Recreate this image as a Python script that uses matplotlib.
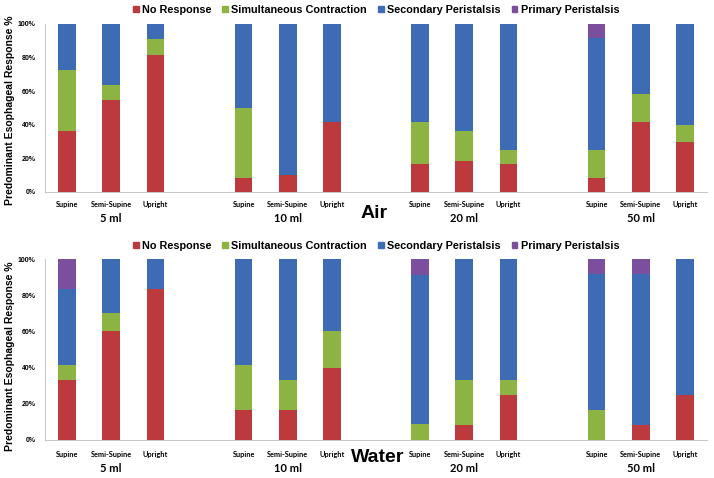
import matplotlib
matplotlib.use("Agg")
import matplotlib.pyplot as plt
import matplotlib.transforms as mtransforms
from matplotlib.patches import Patch
import numpy as np

groups = ["5 ml", "10 ml", "20 ml", "50 ml"]
positions = ["Supine", "Semi-Supine", "Upright"]
series = ["No Response", "Simultaneous Contraction", "Secondary Peristalsis", "Primary Peristalsis"]

# Air (percent), order per group: Supine, Semi-Supine, Upright
air_no_response = [36.4, 54.5, 81.8, 8.3, 10.0, 41.7, 16.7, 18.2, 16.7, 8.3, 41.7, 30.0]
air_simultaneous = [36.4, 9.1, 9.1, 41.7, 0.0, 0.0, 25.0, 18.2, 8.3, 16.7, 16.6, 10.0]
air_secondary = [27.2, 36.4, 9.1, 50.0, 90.0, 58.3, 58.3, 63.6, 75.0, 66.7, 41.7, 60.0]
air_primary = [0, 0, 0, 0, 0, 0, 0, 0, 0, 8.3, 0, 0]

# Water (percent)
water_no_response = [33.3, 60.0, 83.3, 16.7, 16.7, 40.0, 0.0, 8.3, 25.0, 0.0, 8.3, 25.0]
water_simultaneous = [8.4, 10.0, 0.0, 25.0, 16.6, 20.0, 9.1, 25.0, 8.3, 16.7, 0.0, 0.0]
water_secondary = [41.6, 30.0, 16.7, 58.3, 66.7, 40.0, 81.8, 66.7, 66.7, 75.0, 83.4, 75.0]
water_primary = [16.7, 0, 0, 0, 0, 0, 9.1, 0, 0, 8.3, 8.3, 0]

colors = ["#BC3A3E", "#8DB443", "#3D6CB5", "#7B4F9D"]

W, H = 714, 478
fig = plt.figure(figsize=(W / 100, H / 100), dpi=100)

def fx(px):
    return px / W

def fy(py):
    return 1 - py / H

xpos = []
for g in range(len(groups)):
    for p in range(len(positions)):
        xpos.append(g * 4 + p)
xpos = np.array(xpos)

def panel(top_px, bottom_px, data, title, legend_y, cat_y, grp_y, title_x, title_y, ylab_y):
    ax = fig.add_axes([fx(45), fy(bottom_px), fx(707) - fx(45), fy(top_px) - fy(bottom_px)])
    bottom = np.zeros(len(xpos))
    for vals, c in zip(data, colors):
        v = np.array(vals, dtype=float)
        ax.bar(xpos, v, 0.4, bottom=bottom, color=c, linewidth=0)
        bottom += v
    ax.set_xlim(-0.5, 14.5)
    ax.set_ylim(0, 100)
    ax.set_yticks([0, 20, 40, 60, 80, 100])
    ax.set_yticklabels([f"{t}%" for t in [0, 20, 40, 60, 80, 100]],
                       fontsize=5, fontweight="bold", family="Liberation Sans")
    ax.tick_params(axis="y", length=0, pad=7)
    ax.tick_params(axis="x", length=0)
    ax.set_xticks(xpos)
    ax.set_xticklabels([])
    for s in ["top", "right"]:
        ax.spines[s].set_visible(False)
    for s in ["left", "bottom"]:
        ax.spines[s].set_color("#BBBBBB")
        ax.spines[s].set_linewidth(0.6)
    fig.text(fx(10), fy(ylab_y), "Predominant Esophageal Response %",
             fontsize=7.5, fontweight="bold", family="Liberation Sans",
             rotation=90, ha="center", va="center")
    tr = mtransforms.blended_transform_factory(ax.transData, fig.transFigure)
    for i, x in enumerate(xpos):
        ax.text(x, fy(cat_y), positions[i % 3], transform=tr, fontsize=5.3, fontweight="bold",
                family="Lato", ha="center", va="center")
    for g in range(len(groups)):
        ax.text(g * 4 + 1, fy(grp_y), groups[g], fontsize=8, fontweight="bold", family="Lato",
                ha="center", va="center", transform=tr)
    fig.text(fx(title_x), fy(title_y), title, fontsize=14, fontweight="bold",
             family="Liberation Sans", ha="center", va="center")
    handles = [Patch(color=c, label=s) for c, s in zip(colors, series)]
    fig.legend(handles=handles, loc="center", bbox_to_anchor=(fx(376), fy(legend_y)), ncol=4,
               frameon=False, handlelength=0.55, handleheight=0.55, handletextpad=0.3,
               columnspacing=1.0, prop={"family": "Liberation Sans", "weight": "bold", "size": 7.8})
    return ax

panel(24, 192, [air_no_response, air_simultaneous, air_secondary, air_primary], "Air",
      10, 204, 219, 374, 213, 110)
panel(259, 440, [water_no_response, water_simultaneous, water_secondary, water_primary], "Water",
      246, 454, 468, 378, 457, 356)

fig.savefig("out.png", dpi=100)
